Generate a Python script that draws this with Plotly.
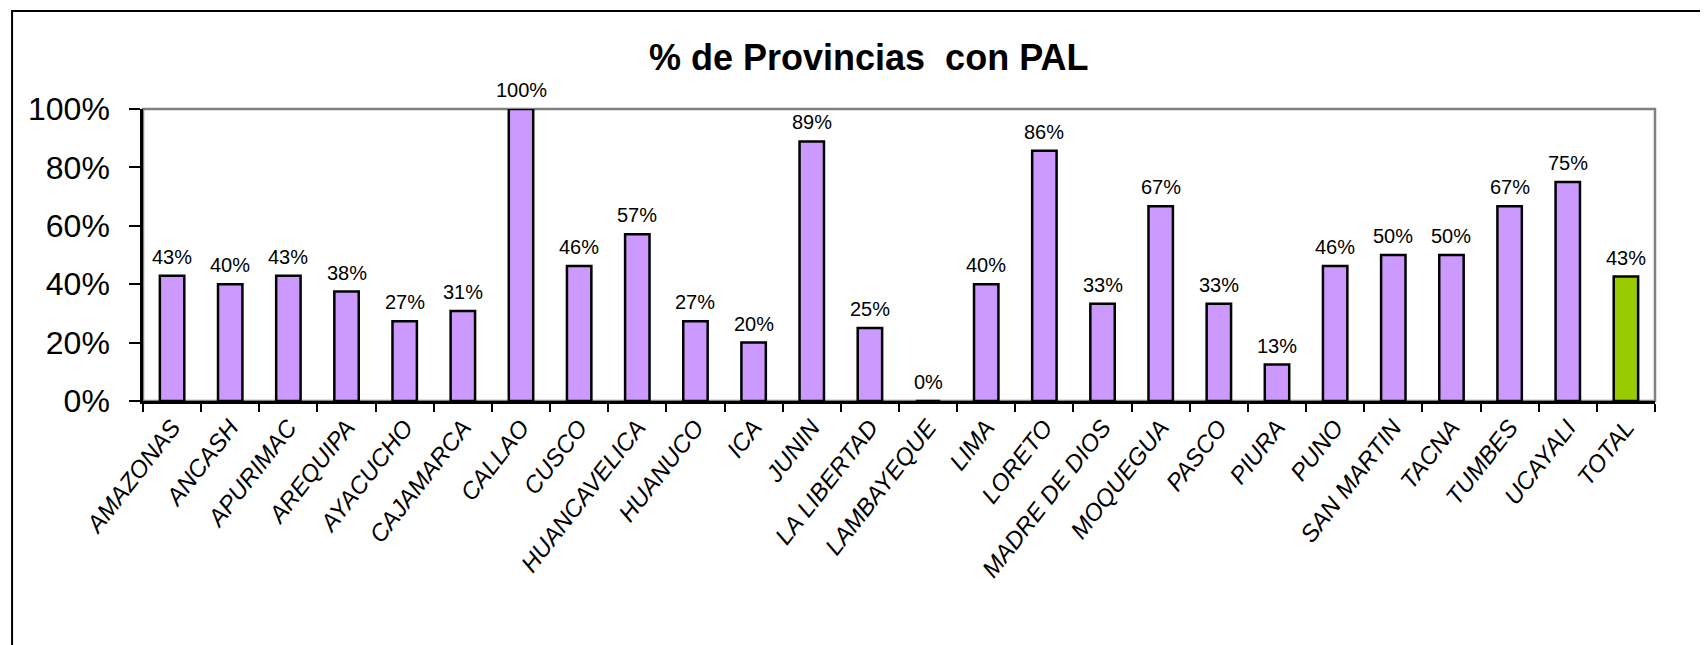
import plotly.graph_objects as go

categories = ["AMAZONAS", "ANCASH", "APURIMAC", "AREQUIPA", "AYACUCHO", "CAJAMARCA",
              "CALLAO", "CUSCO", "HUANCAVELICA", "HUANUCO", "ICA", "JUNIN",
              "LA LIBERTAD", "LAMBAYEQUE", "LIMA", "LORETO", "MADRE DE DIOS",
              "MOQUEGUA", "PASCO", "PIURA", "PUNO", "SAN MARTIN", "TACNA",
              "TUMBES", "UCAYALI", "TOTAL"]
values = [0.429, 0.400, 0.429, 0.375, 0.273, 0.308,
          1.000, 0.462, 0.571, 0.273, 0.200, 0.889,
          0.250, 0.000, 0.400, 0.857, 0.333,
          0.667, 0.333, 0.125, 0.462, 0.500, 0.500,
          0.667, 0.750, 0.426]
y_ticks = [0, 0.2, 0.4, 0.6, 0.8, 1.0]
title_text = "% de Provincias  con PAL"

PURPLE = "#CC99FF"
GREEN = "#99CC00"
colors = [GREEN if c == "TOTAL" else PURPLE for c in categories]
labels = [f"{int(v * 100 + 0.5)}%" for v in values]

FONT = "Liberation Sans, Arial, sans-serif"

fig = go.Figure()
fig.add_trace(go.Bar(
    x=categories, y=values,
    marker=dict(color=colors, line=dict(color="black", width=2.5)),
    hoverinfo="x+y",
))

for c, v, t in zip(categories, values, labels):
    fig.add_annotation(x=c, y=v, text=t, showarrow=False, xref="x", yref="y",
                       yanchor="bottom", yshift=6,
                       font=dict(family=FONT, size=20, color="black"))

# title
fig.add_annotation(x=0.480, y=1.175, xref="paper", yref="paper", text=f"<b>{title_text}</b>",
                   showarrow=False, xanchor="center", yanchor="middle",
                   font=dict(family=FONT, size=36, color="black"))

# plot-area frame (gray) and outer chart border (black)
fig.add_shape(type="rect", xref="paper", yref="paper", x0=0, y0=0, x1=1, y1=1,
              line=dict(color="#808080", width=2.5), layer="below")
fig.add_shape(type="rect", xref="paper", yref="paper", x0=-0.0866, y0=-1.2, x1=1.2, y1=1.3356,
              line=dict(color="black", width=2), layer="below")

# page body has an 8px margin, so the figure is offset by 8px
fig.update_layout(
    width=1700, height=637,
    margin=dict(l=135, r=53, t=101, b=244),
    paper_bgcolor="white", plot_bgcolor="white",
    showlegend=False,
    bargap=0.58,
    font=dict(family=FONT, color="black"),
)
fig.update_xaxes(
    type="category",
    showline=True, linecolor="black", linewidth=2.5,
    ticks="outside", tickson="boundaries", ticklen=8, tickwidth=2, tickcolor="black",
    tickangle=-52,
    tickfont=dict(family=FONT, size=24, color="black", style="italic"),
    showgrid=False, zeroline=False, automargin=False,
)
fig.update_yaxes(
    range=[0, 1], tickvals=y_ticks, tickformat=".0%",
    showline=True, linecolor="black", linewidth=2.5,
    ticks="outside", ticklen=11, tickwidth=2, tickcolor="black",
    ticklabelstandoff=13,
    tickfont=dict(family=FONT, size=32, color="black"),
    showgrid=False, zeroline=False, automargin=False,
)

fig.write_html("out.html")
